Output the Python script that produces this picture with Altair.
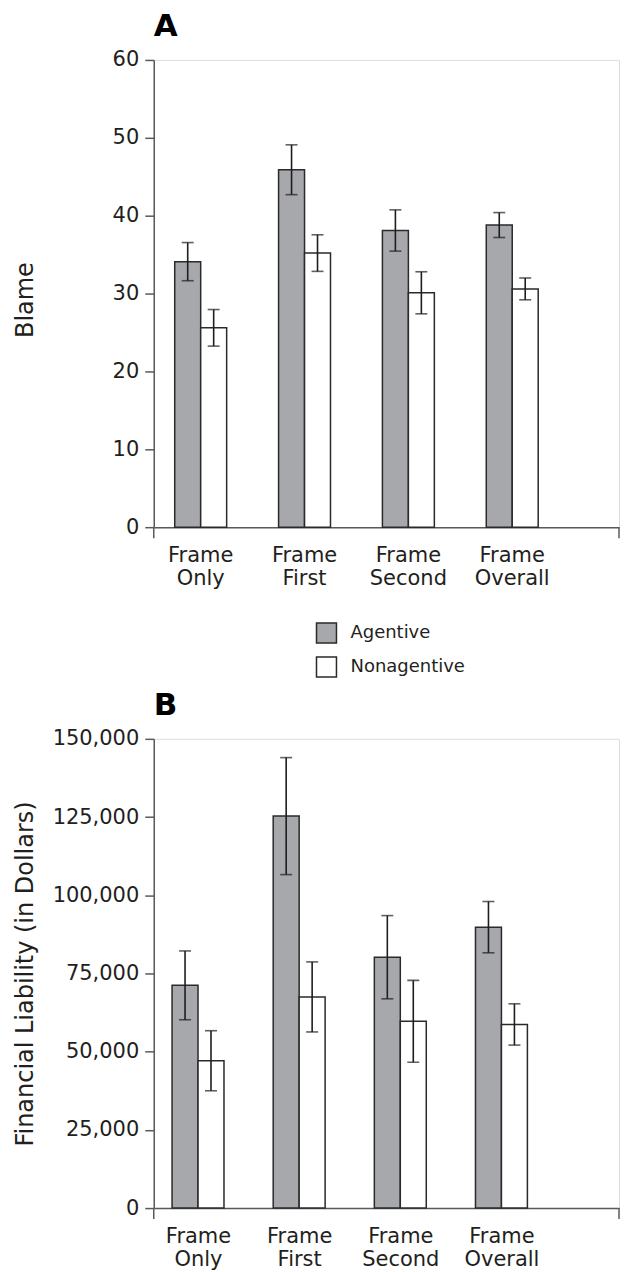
import altair as alt
import pandas as pd

frames = ["Frame Only", "Frame First", "Frame Second", "Frame Overall"]
conds = ["Agentive", "Nonagentive"]

blame_agentive = [34.1, 45.9, 38.1, 38.8]
blame_agentive_se = [2.45, 3.2, 2.65, 1.6]
blame_nonagentive = [25.6, 35.2, 30.1, 30.6]
blame_nonagentive_se = [2.35, 2.35, 2.7, 1.4]

liab_agentive = [71200, 125300, 80200, 89800]
liab_agentive_se = [11000, 18700, 13300, 8200]
liab_nonagentive = [47100, 67500, 59700, 58700]
liab_nonagentive_se = [9600, 11200, 13100, 6600]

blame_ticks = [0, 10, 20, 30, 40, 50, 60]
liab_ticks = [0, 25000, 50000, 75000, 100000, 125000, 150000]

FONT = "DejaVu Sans"
TXT = "#231f20"
AXC = "#5a5a5a"
BAR_STROKE = "#2a2a2a"
FILLS = ["#a7a8ac", "#ffffff"]
W = 466


def make_df(a, a_se, n, n_se):
    rows = []
    for i, f in enumerate(frames):
        rows.append({"frame": f, "cond": conds[0], "mean": a[i], "lo": a[i] - a_se[i], "hi": a[i] + a_se[i]})
        rows.append({"frame": f, "cond": conds[1], "mean": n[i], "lo": n[i] - n_se[i], "hi": n[i] + n_se[i]})
    return pd.DataFrame(rows)


def panel(df, letter, ytitle, ticks, H, pin, pout, align, fmt, title_y, legend):
    xs = alt.X(
        "frame:N", sort=frames, title=None,
        scale=alt.Scale(paddingInner=pin, paddingOuter=pout, align=align),
        axis=alt.Axis(
            labelExpr="split(datum.label, ' ')", labelAngle=0, ticks=False,
            labelFontSize=21, labelFont=FONT, labelColor=TXT, labelLineHeight=23.5,
            labelPadding=17, domainColor=AXC, domainWidth=1.5, labelBaseline="top",
        ),
    )
    xo = alt.XOffset("cond:N", sort=conds, scale=alt.Scale(paddingInner=0, paddingOuter=0))
    ys = alt.Y(
        "mean:Q", title=ytitle,
        scale=alt.Scale(domain=[ticks[0], ticks[-1]], nice=False, zero=True),
        axis=alt.Axis(
            values=ticks, format=fmt, grid=False, tickSize=9, tickWidth=1.5, tickColor=AXC,
            domainColor=AXC, domainWidth=1.5, labelFontSize=21, labelFont=FONT,
            labelColor=TXT, labelPadding=6, titleFont=FONT, titleFontSize=24,
            titleFontWeight="normal", titleColor=TXT, titleX=-116, titleY=title_y,
        ),
    )
    if legend:
        leg = alt.Legend(
            title=None, orient="none", legendX=162, legendY=563, symbolType="square",
            symbolSize=400, symbolStrokeColor=BAR_STROKE, symbolStrokeWidth=1.5,
            labelFontSize=18, labelFont=FONT, labelColor=TXT, labelOffset=13,
            rowPadding=8, padding=0, symbolOpacity=1,
        )
    else:
        leg = None
    col = alt.Color("cond:N", sort=conds, scale=alt.Scale(domain=conds, range=FILLS),
                    legend=leg)
    base = alt.Chart(df)
    bars = base.mark_bar(stroke=BAR_STROKE, strokeWidth=1.5, opacity=1).encode(
        x=xs, xOffset=xo, y=ys, color=col)
    rules = base.mark_rule(color="#1e1e1e", strokeWidth=1.6).encode(
        x=alt.X("frame:N", sort=frames), xOffset=xo, y="lo:Q", y2="hi:Q")
    cap_lo = base.mark_tick(color="#1e1e1e", size=12, thickness=1.6, orient="horizontal").encode(
        x=alt.X("frame:N", sort=frames), xOffset=xo, y="lo:Q")
    cap_hi = base.mark_tick(color="#1e1e1e", size=12, thickness=1.6, orient="horizontal").encode(
        x=alt.X("frame:N", sort=frames), xOffset=xo, y="hi:Q")
    one = alt.Data(values=[{"k": 0}])
    end_l = alt.Chart(one).mark_rule(color=AXC, strokeWidth=1.5).encode(
        x=alt.value(0), y=alt.value(H), y2=alt.value(H + 11))
    end_r = alt.Chart(one).mark_rule(color=AXC, strokeWidth=1.5).encode(
        x=alt.value(W), y=alt.value(H), y2=alt.value(H + 11))
    return alt.layer(bars, rules, cap_lo, cap_hi, end_l, end_r).properties(
        width=W, height=H,
        title=alt.TitleParams(text=letter, anchor="start", frame="group", fontSize=31,
                              font=FONT, fontWeight="bold", color="black",
                              baseline="alphabetic", offset=-18),
    )


dfA = make_df(blame_agentive, blame_agentive_se, blame_nonagentive, blame_nonagentive_se)
dfB = make_df(liab_agentive, liab_agentive_se, liab_nonagentive, liab_nonagentive_se)

A = panel(dfA, "A", "Blame", blame_ticks, 468, 0.5, 0.49, 0.206, "d", 240, True)
B = panel(dfB, "B", "Financial Liability (in Dollars)", liab_ticks, 470, 0.477, 0.5385, 0.168, ",d", 235, False)

chart = alt.vconcat(A, B, spacing=100).properties(
    padding={"top": 1, "left": 5, "right": 0, "bottom": 5}
).configure_view(stroke=None).configure(font=FONT, background="white")

chart.save("out.html", embed_options={"renderer": "svg", "actions": False})
